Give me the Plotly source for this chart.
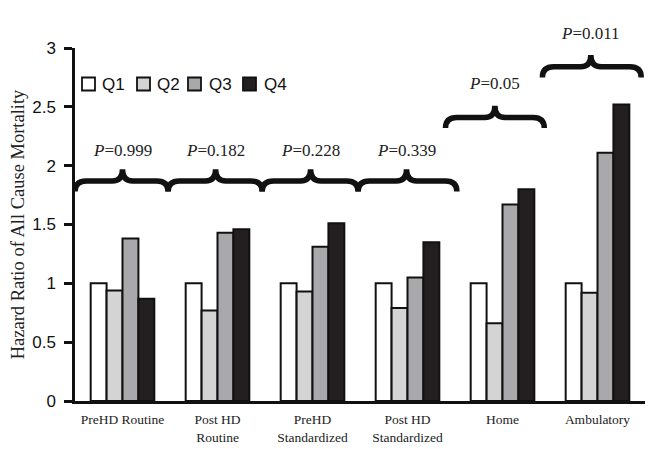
import plotly.graph_objects as go

categories = ["PreHD Routine", "Post HD<br>Routine", "PreHD<br>Standardized",
              "Post HD<br>Standardized", "Home", "Ambulatory"]
series_names = ["Q1", "Q2", "Q3", "Q4"]
q1 = [1.0, 1.0, 1.0, 1.0, 1.0, 1.0]
q2 = [0.94, 0.77, 0.93, 0.79, 0.66, 0.92]
q3 = [1.38, 1.43, 1.31, 1.05, 1.67, 2.11]
q4 = [0.87, 1.46, 1.51, 1.35, 1.80, 2.52]
p_labels = ["0.999", "0.182", "0.228", "0.339", "0.05", "0.011"]
# brace spans (category index units) and heights (HR units)
brace_x0 = [-0.5, 0.48, 1.47, 2.48, 3.4, 4.42]
brace_x1 = [0.48, 1.47, 2.48, 3.52, 4.44, 5.46]
brace_xc = [0.0, 0.98, 1.98, 2.99, 3.92, 4.93]
brace_y = [1.87, 1.87, 1.87, 1.87, 2.41, 2.84]
label_y = [2.13, 2.13, 2.13, 2.13, 2.70, 3.12]
y_max = 3

colors = ["#ffffff", "#d4d4d4", "#a9a9ab", "#231f20"]
xs = list(range(len(categories)))

# layout geometry (figure pixels)
W, H = 665, 449
ML, MR, MT, MB = 67, 28, 40, 56
PW, PH = W - ML - MR, H - MT - MB


def px_to_paper_x(px):
    return (px - ML) / PW


def px_to_paper_y(py):
    return (H - MB - py) / PH


fig = go.Figure()
for name, vals, col in zip(series_names, [q1, q2, q3, q4], colors):
    fig.add_trace(go.Bar(x=xs, y=vals, name=name, showlegend=False,
                         marker=dict(color=col, line=dict(color="#111", width=2))))

shapes = []
annotations = []
d, t, r = 0.09, 0.10, 0.12
for x0, x1, xc, yl, ly, p in zip(brace_x0, brace_x1, brace_xc, brace_y, label_y, p_labels):
    path = (f"M {x0},{yl-d} Q {x0},{yl} {x0+r},{yl} L {xc-r*0.9},{yl} "
            f"Q {xc},{yl} {xc},{yl+t} Q {xc},{yl} {xc+r*0.9},{yl} "
            f"L {x1-r},{yl} Q {x1},{yl} {x1},{yl-d}")
    shapes.append(dict(type="path", xref="x", yref="y", path=path,
                       line=dict(color="#111", width=5.5)))
    annotations.append(dict(x=xc, y=ly / y_max, xref="x", yref="paper", showarrow=False,
                            xanchor="center", yanchor="middle",
                            text=f"<i>P</i>={p}",
                            font=dict(family="Liberation Serif", size=17, color="#222")))

# legend (drawn as boxes + text labels)
leg_box_left = [74, 129, 180, 235]
leg_text_left = [92, 147, 199, 254]
leg_cy = 76
for bx, tx, name, col in zip(leg_box_left, leg_text_left, series_names, colors):
    shapes.append(dict(type="rect", xref="paper", yref="paper",
                       x0=px_to_paper_x(bx), x1=px_to_paper_x(bx + 13),
                       y0=px_to_paper_y(leg_cy + 6.5), y1=px_to_paper_y(leg_cy - 6.5),
                       fillcolor=col, line=dict(color="#111", width=1.8)))
    annotations.append(dict(x=px_to_paper_x(tx), y=px_to_paper_y(leg_cy), xref="paper",
                            yref="paper", showarrow=False, xanchor="left", yanchor="middle",
                            text=name,
                            font=dict(family="Liberation Sans", size=17, color="#111")))

fig.update_layout(
    width=W, height=H,
    margin=dict(l=ML, r=MR, t=MT, b=MB),
    paper_bgcolor="white", plot_bgcolor="white",
    barmode="group", bargap=0.33, bargroupgap=0,
    shapes=shapes, annotations=annotations,
    showlegend=False,
    xaxis=dict(range=[-0.5, 5.5], tickmode="array", tickvals=xs, ticktext=categories,
               showline=True, linecolor="#111", linewidth=3, ticks="", showgrid=False,
               zeroline=False, automargin=False, ticklabelstandoff=4,
               tickfont=dict(family="Liberation Serif", size=13.5, color="#222")),
    yaxis=dict(range=[0, y_max], tickvals=[0, 0.5, 1, 1.5, 2, 2.5, 3],
               ticktext=["0", "0.5", "1", "1.5", "2", "2.5", "3"],
               showline=True, linecolor="#111", linewidth=2.5, ticks="outside", ticklen=8,
               tickwidth=2.5, tickcolor="#111", showgrid=False, zeroline=False,
               automargin=False, ticklabelstandoff=5,
               tickfont=dict(family="Liberation Sans", size=17, color="#111"),
               title=dict(text="Hazard Ratio of All Cause Mortality", standoff=14,
                          font=dict(family="Liberation Serif", size=18.5, color="#222"))),
)
fig.write_html("out.html")
